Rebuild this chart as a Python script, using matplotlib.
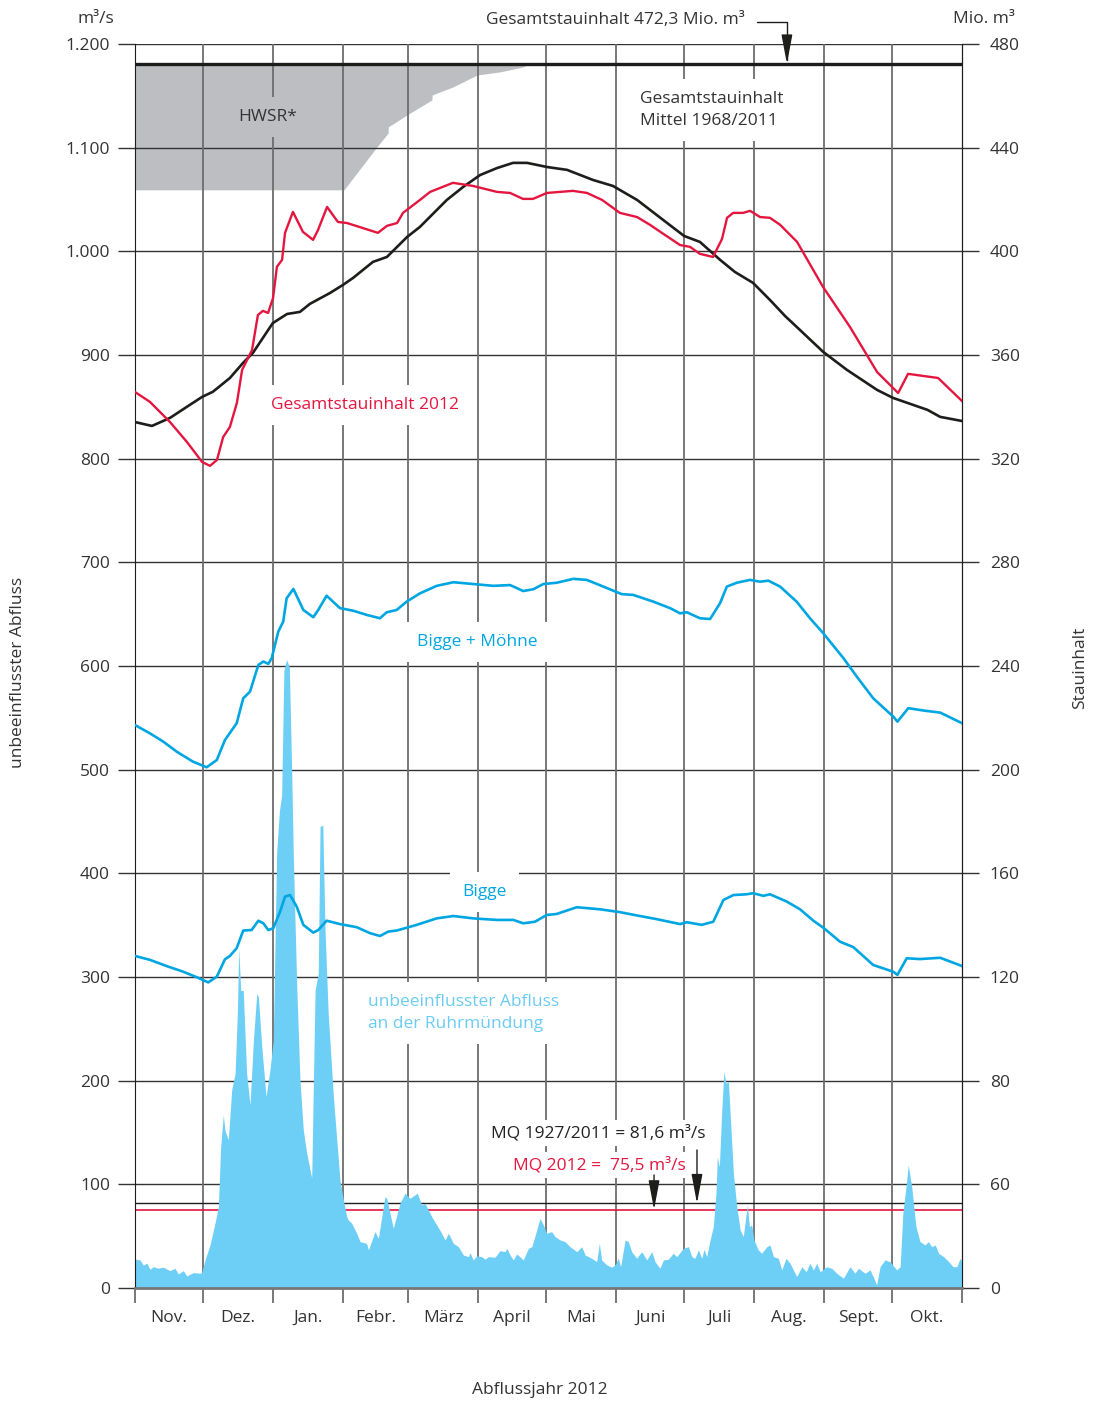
import matplotlib
matplotlib.use("Agg")
import matplotlib.pyplot as plt
from matplotlib.ticker import FuncFormatter, FixedFormatter

plt.rcParams['font.family'] = ['Open Sans', 'DejaVu Sans']

# Abflussjahr 2012: day 0 = 1 Nov 2011, day 366 = 31 Oct 2012
month_starts = [0, 30, 61, 92, 121, 152, 182, 213, 243, 274, 305, 335, 366]
month_names = ["Nov.", "Dez.", "Jan.", "Febr.", "März", "April", "Mai",
               "Juni", "Juli", "Aug.", "Sept.", "Okt."]

# right axis ticks (Mio. m³) and their labels as printed in the original
storage_ticks = [0, 40, 80, 120, 160, 200, 240, 280, 320, 360, 400, 440, 480]
storage_tick_labels = ["0", "60", "80", "120", "160", "200", "240", "280", "320",
                       "360", "400", "440", "480"]

total_capacity = 472.3   # Mio. m³
mq_longterm = 81.6       # m³/s
mq_2012 = 75.5           # m³/s

# Gesamtstauinhalt Mittel 1968/2011 (Mio. m³)
mean_day = [0, 7.5, 15.5, 23, 29.7, 34.5, 42, 47.8, 52.2, 61, 67.3, 73, 77.4, 86.3,
            92, 96.5, 105.3, 111.5, 120.4, 126.1, 138, 145.2, 152.7, 160.2, 167.3,
            173.5, 182.4, 191.2, 202.7, 211.5, 222.2, 233.7, 243, 250, 258.9, 265.5,
            273.5, 281, 287.7, 294.3, 304.5, 315.1, 328.4, 335.5, 350.7, 356.3, 366]
mean_storage = [334.1, 332.6, 335.7, 340.0, 343.8, 345.8, 351.1, 356.9, 360.8, 372.3,
                375.8, 376.6, 379.7, 383.9, 387.0, 389.7, 395.9, 397.8, 405.5, 409.4,
                419.8, 424.8, 429.4, 432.1, 434.1, 434.1, 432.5, 431.4, 427.5, 425.2,
                419.8, 412.1, 405.9, 403.6, 396.7, 392.0, 387.8, 381.2, 375.0, 369.6,
                361.2, 354.2, 346.5, 343.4, 338.8, 336.1, 334.5]

# Gesamtstauinhalt 2012 (Mio. m³)
day_2012 = [0, 6.6, 15.5, 23, 29.7, 33.2, 36.3, 39, 42, 45.1, 47.4, 51.8, 54.4, 56.6,
            58.9, 61.1, 62.8, 65.1, 66.4, 69.9, 74.3, 78.8, 81, 85, 89.8, 93.8, 107.5,
            111.5, 116, 118.6, 126.1, 130.6, 140.7, 149.6, 160.2, 166, 171.7, 176.1,
            182.3, 193.8, 200, 206.7, 214.6, 222.2, 227.9, 234.5, 241.2, 245.6, 250,
            255.8, 259.8, 262, 264.7, 269.1, 272.2, 276.6, 281, 285.5, 293, 304.5,
            316.4, 328.4, 337.7, 342.1, 355.4, 366]
storage_2012 = [345.7, 341.9, 334.1, 326.4, 318.7, 317.2, 319.5, 328.3, 332.2, 341.5,
                354.2, 361.9, 375.4, 377.0, 376.2, 382.0, 394.0, 396.7, 407.1, 415.2,
                407.5, 404.4, 408.2, 417.1, 411.3, 410.9, 407.1, 409.8, 410.9, 414.8,
                419.8, 422.9, 426.4, 425.2, 422.9, 422.5, 420.2, 420.2, 422.5, 423.3,
                422.5, 419.8, 414.8, 413.2, 410.2, 406.3, 402.4, 401.7, 399.0, 397.8,
                404.8, 412.9, 414.8, 414.8, 415.6, 413.2, 412.9, 410.2, 403.6, 386.2,
                370.8, 353.4, 345.3, 352.7, 351.1, 342.2]

# Hochwasserschutzraum, lower edge (Mio. m³)
hwsr_day = [0, 92.5, 107.1, 112, 112.1, 120.4, 131.4, 131.5, 140.7, 151.4, 161.5, 171.7, 174.8]
hwsr_lower = [423.7, 423.7, 440.3, 445.6, 448.0, 452.6, 458.4, 460.3, 463.4, 468.0,
              469.2, 471.1, 472.3]

# Bigge + Möhne (Mio. m³)
bm_day = [0, 6.6, 12.5, 18.5, 25.6, 31.7, 36.2, 39.8, 45.0, 47.9, 50.9, 54.6, 56.8,
          59.0, 60.5, 63.4, 65.6, 67.1, 70.1, 74.5, 78.9, 81.1, 84.8, 90.7, 96.6,
          102.5, 108.4, 111.4, 115.8, 120.2, 126.1, 133.5, 140.9, 149.7, 158.6, 166.0,
          171.8, 176.3, 180.7, 186.6, 194.0, 199.9, 207.3, 215.4, 220.5, 229.4, 236.8,
          241.2, 244.2, 250.0, 254.5, 258.9, 261.9, 266.3, 272.2, 276.6, 280.3, 285.5,
          292.8, 298.7, 304.6, 313.5, 319.4, 326.7, 335.6, 337.4, 342.2, 348.9, 356.3,
          366]
bm_storage = [217.2, 214.0, 210.8, 206.9, 203.1, 200.9, 203.7, 211.4, 217.9, 227.5,
              230.1, 240.4, 241.7, 240.8, 243.0, 253.2, 257.1, 266.1, 269.7, 261.6,
              258.8, 261.6, 267.1, 262.3, 261.3, 259.7, 258.4, 260.7, 261.6, 264.8,
              268.0, 270.9, 272.3, 271.6, 270.9, 271.2, 268.9, 269.6, 271.6, 272.1,
              273.6, 273.2, 270.6, 267.7, 267.4, 264.8, 262.3, 260.3, 260.7, 258.4,
              258.1, 264.2, 270.6, 272.1, 273.2, 272.5, 272.9, 270.6, 264.8, 258.4,
              252.6, 243.0, 235.9, 227.5, 220.4, 218.5, 223.7, 222.8, 222.0, 217.9]

# Bigge (Mio. m³)
bigge_day = [0, 6.6, 14.0, 21.4, 27.3, 32.4, 36.2, 39.8, 42.0, 45.0, 47.9, 51.6, 54.6,
             56.8, 59.0, 61.2, 64.2, 66.4, 68.6, 71.6, 74.5, 78.9, 81.1, 84.8, 90.7,
             98.1, 104.0, 108.4, 112.1, 115.8, 124.7, 133.5, 140.9, 149.7, 160.1, 167.4,
             171.8, 177.0, 182.2, 186.6, 195.5, 205.8, 214.6, 223.5, 230.9, 241.2, 244.2,
             250.8, 255.9, 260.4, 264.8, 270.7, 273.6, 278.1, 281.0, 288.4, 294.3, 300.2,
             304.6, 312.0, 317.9, 326.7, 335.6, 337.4, 341.5, 347.4, 356.3, 366]
bigge_storage = [128.1, 126.6, 124.2, 122.0, 119.9, 117.9, 120.1, 126.8, 128.1, 131.1,
                 137.9, 138.1, 141.7, 140.7, 138.1, 138.8, 145.2, 151.0, 151.6, 147.1,
                 140.1, 137.1, 138.1, 141.7, 140.4, 139.2, 136.9, 135.8, 137.5, 137.9,
                 140.1, 142.6, 143.5, 142.6, 142.0, 142.0, 140.7, 141.3, 143.9, 144.3,
                 146.9, 146.1, 145.0, 143.5, 142.3, 140.4, 141.1, 140.1, 141.3, 149.7,
                 151.6, 151.9, 152.3, 151.3, 151.9, 149.1, 146.1, 141.7, 139.0, 133.6,
                 131.5, 124.6, 122.0, 120.8, 127.2, 126.9, 127.4, 124.2]

# unbeeinflusster Abfluss an der Ruhrmündung (m³/s)
flow_day = [0, 2.2, 3.7, 5.2, 6.6, 8.1, 10.3, 12.5, 15.5, 17.7, 19.2, 21.4, 22.9, 25.8,
            28.8, 29.5, 31.0, 33.2, 35.4, 36.9, 37.9, 39.1, 39.8, 41.3, 42.8, 44.3, 45.3,
            45.9, 46.8, 47.9, 49.4, 50.9, 52.4, 53.9, 54.6, 56.1, 58.0, 59.7, 61.2, 62.7,
            63.9, 64.9, 65.9, 67.1, 68.3, 69.3, 70.1, 71.6, 73.0, 74.5, 76.0, 78.2, 79.7,
            81.1, 81.9, 83.1, 84.1, 85.5, 87.8, 89.3, 90.7, 92.2, 93.7, 94.4, 95.9, 98.1,
            99.6, 102.5, 103.3, 106.2, 107.7, 110.6, 111.4, 114.3, 117.3, 119.5, 121.7,
            124.9, 126.9, 128.3, 131.3, 133.5, 135.7, 137.2, 138.7, 140.9, 143.1, 145.3,
            147.5, 148.3, 149.7, 151.2, 153.4, 154.9, 156.4, 159.3, 161.5, 163.7, 164.5,
            166.0, 167.4, 168.9, 171.1, 171.8, 174.1, 175.6, 177.8, 179.2, 180.7, 182.2,
            184.4, 185.9, 188.1, 190.3, 192.5, 195.5, 197.7, 199.2, 202.1, 204.3, 205.5,
            206.5, 208.8, 211.0, 212.4, 213.9, 214.9, 216.9, 218.3, 219.8, 222.0, 224.2,
            226.5, 228.7, 230.1, 232.3, 233.8, 236.0, 238.2, 239.7, 242.7, 244.9, 246.4,
            247.8, 249.3, 250.8, 251.8, 253.0, 254.5, 255.9, 257.1, 257.7, 258.6, 259.6,
            260.6, 261.5, 262.6, 263.6, 264.8, 266.3, 267.8, 269.2, 270.3, 271.0, 271.9,
            272.9, 273.9, 275.8, 277.3, 279.6, 281.0, 282.5, 284.7, 286.2, 288.1, 289.9,
            292.8, 295.1, 297.0, 298.7, 300.2, 301.7, 303.2, 306.1, 308.3, 310.5, 313.5,
            316.4, 318.6, 320.1, 323.1, 325.3, 326.7, 328.2, 329.7, 331.9, 334.1, 337.1,
            338.6, 339.8, 341.2, 342.2, 343.7, 345.6, 347.4, 349.6, 351.1, 352.6, 354.1,
            355.6, 357.8, 360.1, 362.0, 363.7, 365.1, 366]
flow = [27.7, 27, 22, 24, 18, 20.5, 19, 20, 16.7, 19, 13.5, 16.7, 11.6, 14.8,
        14.2, 14.8, 27, 41.5, 62.4, 78.4, 136, 167, 152, 143, 191, 207, 265,
        328, 287, 287, 207, 176.5, 239, 284, 281, 233, 184.5, 210, 239, 420,
        460, 475, 596, 606, 599, 503, 413, 290, 200.6, 152, 130, 106, 287,
        303.6, 445, 446.6, 345, 265, 184.5, 143, 104, 85, 68.8, 65.6, 62.4, 52.8,
        44.7, 43, 36.7, 54.3, 48, 88, 86.5, 57.6, 82, 91.4, 86.5,
        91.4, 80, 81.7, 68.8, 60.8, 52.8, 46.3, 52.8, 43, 39.8, 31.8,
        30.2, 34, 27, 30.9, 30.2, 27.7, 30.2, 29.6, 36, 35, 38.3,
        31.8, 27, 32.8, 28.6, 27, 38.3, 39.8, 56, 67.2, 60.8, 52.8,
        54.3, 49.5, 46.3, 44.7, 39.8, 35, 39.8, 31.8, 28.6, 25.4, 43,
        27, 22.2, 20, 22.2, 28.6, 20.5, 46.3, 44.7, 35, 28.6, 35,
        27, 35, 25.4, 19, 27, 27.7, 33.5, 30.2, 38.3, 39.8, 30.2,
        28.6, 36.7, 28.6, 37.3, 30.2, 46.3, 59, 91.4, 126.7, 117, 168.5,
        208.7, 197.5, 199, 158.9, 110.6, 78.4, 56, 49.5, 68.8, 80, 59,
        60.8, 46.3, 36.7, 33.5, 39.8, 41.5, 30.2, 28.6, 17.4, 28.6, 23.8,
        10.9, 20.5, 15.7, 23.8, 17.4, 23.8, 15.7, 20.5, 19, 14.2, 9.4,
        20.5, 14.2, 19, 14.2, 17.4, 10.9, 2.9, 20.5, 27, 25.4, 17.4,
        20.5, 72, 97.7, 118.6, 97.7, 59, 44.7, 41.5, 44.7, 39.8, 41.5,
        33.5, 30.2, 25.4, 20.5, 20.5, 28.6, 25.4]

RATIO = 1200 / 480  # left axis m³/s per right axis Mio. m³

RED = "#E4163F"
BLACK = "#1d1d1b"
BLUE = "#00A6E2"
AREA = "#6DCFF6"
GREY = "#BDBEC1"
LBLUE = "#6CCBF3"
TXT = "#333333"
FS = 12.5


def to_left(values):
    return [v * RATIO for v in values]


fig = plt.figure(figsize=(10.93, 14.03), dpi=100)
ax = fig.add_axes([0.1235, 0.0820, 0.7567, 0.8867])
ax.set_xlim(0, 366)
ax.set_ylim(0, 1200)

# grid
for v in range(100, 1201, 100):
    ax.axhline(v, color="#333333", lw=1.0, zorder=1)
for d in month_starts[1:-1]:
    ax.axvline(d, color="#6d6d6d", lw=1.3, zorder=1)

# flood protection space
ax.fill_between(hwsr_day, to_left(hwsr_lower), total_capacity * RATIO,
                color=GREY, lw=0, zorder=0.5)
ax.axhline(total_capacity * RATIO, color=BLACK, lw=2.4, zorder=4)

# mean discharge lines
ax.axhline(mq_longterm, color=BLACK, lw=1.0, zorder=1.5)
ax.axhline(mq_2012, color=RED, lw=1.2, zorder=1.5)

# discharge
ax.fill_between(flow_day, flow, 0, color=AREA, lw=0, zorder=2)

# storage curves
ax.plot(mean_day, to_left(mean_storage), color=BLACK, lw=1.9, zorder=4)
ax.plot(day_2012, to_left(storage_2012), color=RED, lw=1.7, zorder=4)
ax.plot(bm_day, to_left(bm_storage), color=BLUE, lw=1.9, zorder=4)
ax.plot(bigge_day, to_left(bigge_storage), color=BLUE, lw=1.9, zorder=4)

# axes styling
ax.spines["top"].set_visible(False)
ax.spines["left"].set_color(BLACK)
ax.spines["right"].set_color(BLACK)
ax.spines["bottom"].set_color("#777777")
ax.spines["bottom"].set_linewidth(2.0)

ax.set_xticks(month_starts)
ax.set_xticklabels([])
ax.tick_params(axis="x", which="major", length=11, width=1.3, color="#6d6d6d")
centers = [(a + b) / 2 for a, b in zip(month_starts[:-1], month_starts[1:])]
ax.set_xticks(centers, minor=True)
ax.set_xticklabels(month_names, minor=True, fontsize=FS, color=TXT)
ax.tick_params(axis="x", which="minor", length=0, pad=16)

thousands = FuncFormatter(lambda v, p: f"{int(v):,}".replace(",", "."))
ax.set_yticks(range(0, 1201, 100))
ax.yaxis.set_major_formatter(thousands)
ax.tick_params(axis="y", length=12, width=1.0, color="#333333", pad=6,
               labelsize=FS, labelcolor=TXT)

sec = ax.secondary_yaxis("right", functions=(lambda v: v / RATIO, lambda m: m * RATIO))
sec.set_yticks(storage_ticks)
sec.yaxis.set_major_formatter(FixedFormatter(storage_tick_labels))
sec.tick_params(length=12, width=1.0, color="#333333", pad=8,
                labelsize=FS, labelcolor=TXT)
sec.spines["right"].set_color(BLACK)

# labels inside the chart
white = dict(boxstyle="square,pad=0.7", fc="white", ec="none")
ax.text(58.9, 1129.6, "HWSR*", fontsize=FS, color=TXT, ha="center", va="center",
        zorder=3, bbox=dict(boxstyle="square,pad=0.7", fc=GREY, ec="none"))
ax.text(223.5, 1136.3, "Gesamtstauinhalt\nMittel 1968/2011", fontsize=FS, color=TXT,
        ha="left", va="center", linespacing=1.45, zorder=3, bbox=white)
ax.text(60.2, 851.8, "Gesamtstauinhalt 2012", fontsize=FS, color=RED,
        ha="left", va="center", zorder=3, bbox=white)
ax.text(124.8, 623.2, "Bigge + Möhne", fontsize=FS, color=BLUE,
        ha="left", va="center", zorder=3, bbox=white)
ax.text(144.7, 382, "Bigge", fontsize=FS, color=BLUE,
        ha="left", va="center", zorder=3, bbox=white)
ax.text(103.1, 265.3, "unbeeinflusster Abfluss\nan der Ruhrmündung", fontsize=FS,
        color=LBLUE, ha="left", va="center", linespacing=1.45, zorder=3, bbox=white)
ax.text(252.3, 149.5, "MQ 1927/2011 = 81,6 m³/s", fontsize=FS, color="#222222",
        ha="right", va="center", zorder=3,
        bbox=dict(boxstyle="square,pad=0.3", fc="white", ec="none"))
ax.text(243.9, 118.6, "MQ 2012 =  75,5 m³/s", fontsize=FS, color=RED,
        ha="right", va="center", zorder=3,
        bbox=dict(boxstyle="square,pad=0.3", fc="white", ec="none"))

arrow = dict(arrowstyle="-|>,head_length=1.5,head_width=0.28", color=BLACK, lw=1.0,
             shrinkA=0, shrinkB=0, mutation_scale=12)
ax.annotate("", xy=(248.7, mq_longterm), xytext=(248.7, 133.1), arrowprops=arrow, zorder=5)
ax.annotate("", xy=(229.7, mq_2012), xytext=(229.7, 109.0), arrowprops=arrow, zorder=5)

ax.text(270.0, 1223.5, "Gesamtstauinhalt 472,3 Mio. m³", fontsize=FS, color=TXT,
        ha="right", va="center", clip_on=False)
top_arrow = dict(arrow, connectionstyle="angle,angleA=0,angleB=90,rad=0")
ax.annotate("", xy=(288.5, total_capacity * RATIO), xytext=(275.3, 1221.5),
            arrowprops=top_arrow, annotation_clip=False, zorder=5)

# axis titles
fig.text(96 / 1093, 1 - 19 / 1403, "m³/s", fontsize=FS, color=TXT, ha="center", va="center")
fig.text(1015 / 1093, 1 - 19 / 1403, "Mio. m³", fontsize=FS, color=TXT, ha="right", va="center")
fig.text(18 / 1093, 1 - 672 / 1403, "unbeeinflusster Abfluss", fontsize=FS, color=TXT,
         rotation=90, ha="center", va="center")
fig.text(1080 / 1093, 1 - 668 / 1403, "Stauinhalt", fontsize=FS, color=TXT,
         rotation=90, ha="center", va="center")
fig.text(540 / 1093, 1 - 1390 / 1403, "Abflussjahr 2012", fontsize=FS, color=TXT,
         ha="center", va="center")

fig.savefig("out.png", dpi=100)
